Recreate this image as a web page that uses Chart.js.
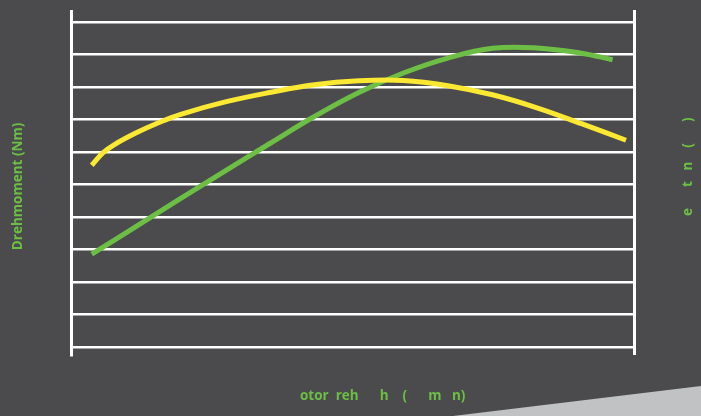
<!DOCTYPE html>
<html>
<head>
<meta charset="utf-8">
<script src="https://cdn.jsdelivr.net/npm/chart.js@4"></script>
<style>
  html, body { margin: 0; padding: 0; background: #4b4b4d; }
  #wrap { width: 701px; height: 416px; }
</style>
</head>
<body>
<div id="wrap"><canvas id="myChart"></canvas></div>
<script>
// Drehmoment (gelb)
let rpmTorque = [1000, 1125, 1250, 1500, 1750, 2000, 2500, 3000, 3500, 4000, 4500, 5000, 5500, 6000, 6500, 7000];
let torque = [55.9, 59.7, 62.2, 65.9, 69.0, 71.6, 75.4, 78.3, 80.7, 81.9, 82.0, 80.4, 77.6, 73.6, 68.7, 63.6];
// Leistung (gruen)
let rpmPower = [1000, 1500, 2000, 2500, 3000, 3500, 4000, 4500, 5000, 5500, 6000, 6500, 6850];
let power = [28.5, 37.1, 45.7, 54.2, 62.6, 70.9, 78.3, 84.3, 88.9, 91.9, 92.0, 90.4, 88.4];
let gridValues = [0, 10, 20, 30, 40, 50, 60, 70, 80, 90, 100];

const titleLeft = 'Drehmoment (Nm)  ';
const titleBottom = '                 otor  reh      h    (      m   n)';
const titleRight = 'e      t   n    (      )';

const green = '#6cbf44';
const yellow = '#fbe832';
const fontName = '"Open Sans", sans-serif';

// hintergrund + graues dreieck unten rechts, rechter titel
const deko = {
    id: 'deko',
    beforeDraw(c) {
        const g = c.ctx;
        g.save();
        g.fillStyle = '#4b4b4d';
        g.fillRect(0, 0, c.width, c.height);
        g.fillStyle = '#c1c2c4';
        g.beginPath();
        g.moveTo(453, 416);
        g.lineTo(701, 386);
        g.lineTo(701, 416);
        g.closePath();
        g.fill();
        g.restore();
    },
    afterDraw(c) {
        const g = c.ctx;
        g.save();
        g.translate(692, 216);
        g.rotate(-Math.PI / 2);
        g.font = 'bold 13.5px ' + fontName;
        g.fillStyle = green;
        g.textAlign = 'left';
        g.textBaseline = 'alphabetic';
        g.fillText(titleRight, 0, 0);
        g.restore();
    }
};

const ctx = document.getElementById('myChart').getContext('2d');
const chart = new Chart(ctx, {
    type: 'line',
    data: {
        datasets: [{
            label: 'Drehmoment',
            data: rpmTorque.map((r, i) => ({x: r, y: torque[i]})),
            borderColor: yellow,
            borderWidth: 5,
            borderCapStyle: 'butt',
            pointRadius: 0,
            tension: 0.4,
            yAxisID: 'y'
        }, {
            label: 'Leistung',
            data: rpmPower.map((r, i) => ({x: r, y: power[i]})),
            borderColor: green,
            borderWidth: 5,
            borderCapStyle: 'butt',
            pointRadius: 0,
            tension: 0.4,
            yAxisID: 'y1'
        }]
    },
    options: {
        responsive: true,
        maintainAspectRatio: false,
        animation: false,
        layout: {padding: {left: 0, right: 67, top: 11, bottom: 0}},
        plugins: {legend: {display: false}, tooltip: {enabled: false}},
        scales: {
            x: {
                type: 'linear',
                min: 775,
                max: 7090,
                grid: {display: false, drawTicks: false},
                border: {display: false},
                ticks: {display: false},
                title: {
                    display: true,
                    text: titleBottom,
                    color: green,
                    font: {family: fontName, size: 13.5, weight: 'bold', lineHeight: 1.2},
                    padding: {top: 33, bottom: 12}
                }
            },
            y: {
                position: 'left',
                min: -2.47,
                max: 103.4,
                afterBuildTicks: s => { s.ticks = gridValues.map(v => ({value: v})); },
                grid: {color: '#ffffff', lineWidth: 2.5, drawTicks: false},
                border: {display: true, color: '#ffffff', width: 3},
                ticks: {display: false},
                title: {
                    display: true,
                    text: titleLeft,
                    color: green,
                    font: {family: fontName, size: 13.5, weight: 'bold', lineHeight: 1.2},
                    padding: {top: 10.5, bottom: 45}
                }
            },
            y1: {
                position: 'right',
                display: true,
                min: -2.47,
                max: 103.4,
                grid: {display: false, drawTicks: false},
                border: {display: true, color: '#ffffff', width: 3},
                ticks: {display: false}
            }
        }
    },
    plugins: [deko]
});
</script>
</body>
</html>
